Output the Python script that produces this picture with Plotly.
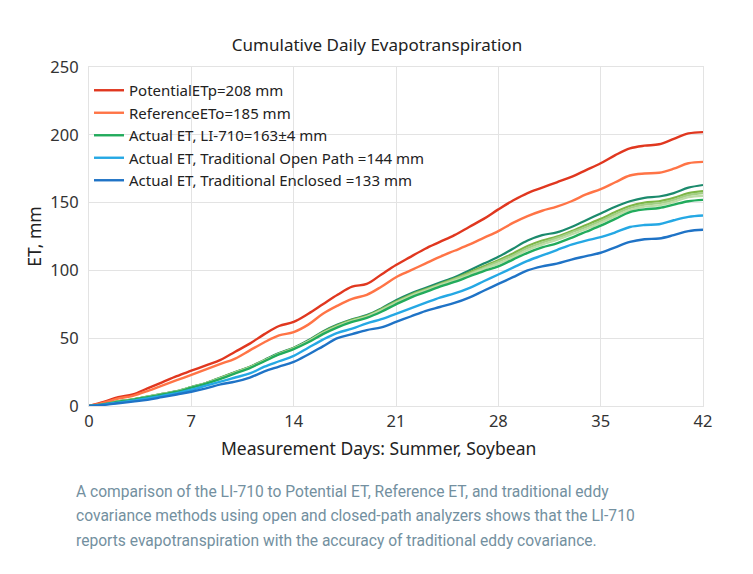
import plotly.graph_objects as go

days = list(range(0, 43))

potential = [0, 3, 6.5, 8.5, 13, 17.5, 22, 26, 30, 34, 40, 46, 53, 59, 62, 68, 75, 82, 88, 90, 97,
             104, 110, 116, 121, 126, 132, 138, 145, 151.5, 157, 161, 165, 169, 174, 179, 185, 190, 192, 193, 197, 201, 202]
reference = [0, 2.5, 5.5, 7.5, 11, 15, 19, 23, 27, 31, 35, 41, 47, 52, 54.5, 60, 68, 74, 79, 82, 88,
             95, 100, 105, 110, 114.5, 119, 124, 129, 135, 140, 144, 147, 151, 156, 160, 165, 170, 171.5, 172, 175, 179, 180]
li710_a = [0, 1.5, 3.5, 5, 7, 9, 11, 14, 17, 21, 25, 29, 34, 39, 43, 48.5, 55, 60, 64, 67, 72,
           78, 83, 87, 91, 95, 100, 105, 110, 116, 122, 126, 128, 132, 137, 142, 147, 151, 153.5, 154.5, 157, 161, 163]
li710_b = [0, 1.5, 3.4, 4.9, 6.9, 8.9, 10.9, 13.9, 16.9, 20.8, 24.8, 28.8, 33.7, 38.7, 42.7, 48, 54.5, 59.5, 63.5, 66.5, 71.5,
           77, 82, 86, 90, 94, 98.5, 103, 107.5, 112.5, 118, 122, 125, 129, 133.5, 138, 143, 147.5, 150, 151, 153.5, 157, 158.5]
li710_c = [0, 1.4, 3.4, 4.8, 6.8, 8.8, 10.8, 13.8, 16.8, 20.6, 24.6, 28.6, 33.5, 38.5, 42.5, 47.8, 54, 59, 63, 66, 71,
           76.5, 81.5, 85.5, 89.5, 93.5, 97.5, 102, 106.5, 111, 116.5, 120.5, 124, 128, 132, 136.5, 141.5, 146, 148.5, 149.5, 152, 155.5, 157]
li710_d = [0, 1.4, 3.3, 4.8, 6.7, 8.7, 10.7, 13.7, 16.7, 20.4, 24.4, 28.4, 33.3, 38.3, 42.3, 47.5, 53.7, 58.7, 62.7, 65.7, 70.5,
           76, 81, 85, 89, 92.5, 96.5, 101, 105, 109.5, 115, 119, 122.5, 126.5, 130.5, 135, 140, 144.5, 147, 148, 150.5, 154, 155]
li710_e = [0, 1.3, 3.2, 4.7, 6.5, 8.5, 10.5, 13.5, 16.5, 20, 24, 28, 33, 38, 42, 47, 53, 58, 62, 65, 69.5,
           75, 80, 84, 88, 91.5, 95.5, 99.5, 103, 108, 113, 117, 120, 124, 128.5, 133, 138, 143, 145, 146, 148.5, 151, 152]
open_path = [0, 1, 2.5, 4, 5.5, 7.5, 9.5, 12, 15, 18, 21, 24, 29, 33, 37, 43, 49, 54, 57, 61, 64,
             68, 72, 76, 80, 83, 87, 92, 97, 102, 107, 111, 115, 119, 122, 124.5, 128, 132, 133.5, 134, 137, 139.5, 140.5]
enclosed = [0, 0.8, 2, 3.2, 4.5, 6.5, 8.5, 10.5, 13, 16, 18, 21, 25.5, 29, 32.5, 38, 44, 50, 53, 56, 58,
            62, 66, 70, 73, 76, 80, 85, 90, 95, 100, 103, 105, 108, 110.5, 113, 117, 121, 123, 123.5, 126, 129, 130]

legend_names = ["PotentialETp=208 mm", "ReferenceETo=185 mm", "Actual ET, LI-710=163±4 mm",
                "Actual ET, Traditional Open Path =144 mm", "Actual ET, Traditional Enclosed =133 mm"]

x_ticks = [0, 7, 14, 21, 28, 35, 42]
y_ticks = [0, 50, 100, 150, 200, 250]

caption_lines = [
    "A comparison of the LI-710 to Potential ET, Reference ET, and traditional eddy",
    "covariance methods using open and closed-path analyzers shows that the LI-710",
    "reports evapotranspiration with the accuracy of traditional eddy covariance.",
]

fig = go.Figure()

extra = [(li710_a, "#1b8a6c"), (li710_b, "#7db646"), (li710_c, "#a3cf85"), (li710_d, "#bcdca6")]
for vals, col in extra:
    fig.add_trace(go.Scatter(x=days, y=vals, mode="lines", line=dict(color=col, width=2.2, shape="spline"),
                             showlegend=False, hoverinfo="skip"))

series = [
    (potential, "#e0371f", legend_names[0]),
    (reference, "#ff7446", legend_names[1]),
    (li710_e, "#22ab5c", legend_names[2]),
    (open_path, "#25a8e4", legend_names[3]),
    (enclosed, "#1f73c6", legend_names[4]),
]
for vals, col, name in series:
    fig.add_trace(go.Scatter(x=days, y=vals, mode="lines", name=name,
                             line=dict(color=col, width=2.4, shape="spline")))

# page has an 8px body margin, so offsets are reduced by 8
fig.update_layout(
    width=753, height=574,
    paper_bgcolor="white", plot_bgcolor="white",
    margin=dict(l=81, r=58, t=59, b=176),
    font=dict(family="Noto Sans", color="#222222"),
    title=dict(text="Cumulative Daily Evapotranspiration", x=(377 - 8) / 753, xanchor="center",
               y=1 - 37 / 574, yanchor="middle", yref="container",
               font=dict(size=17, color="#222222")),
    showlegend=True,
    legend=dict(x=0.0, y=(406 - 74) / 339, xanchor="left", yanchor="top", bgcolor="rgba(0,0,0,0)",
                font=dict(size=15, color="#222222"), traceorder="normal"),
    xaxis=dict(range=[0, 42], tickvals=x_ticks, ticktext=[str(t) for t in x_ticks],
               showgrid=True, gridcolor="#e3e3e3", gridwidth=1, zeroline=False,
               showline=True, linecolor="#e3e3e3", mirror=True,
               tickfont=dict(size=16.5, color="#333333")),
    yaxis=dict(range=[0, 250], tickvals=y_ticks, ticktext=[str(t) for t in y_ticks],
               showgrid=True, gridcolor="#e3e3e3", gridwidth=1, zeroline=False,
               showline=True, linecolor="#e3e3e3", mirror=True,
               tickfont=dict(size=16.5, color="#333333"), ticks="", ticklabelstandoff=6,
               title=dict(text="ET, mm", font=dict(size=17.5, color="#222222"), standoff=4)),
)

# x-axis title (placed slightly left of centre, as in the original)
fig.add_annotation(text="Measurement Days: Summer, Soybean", xref="paper", yref="paper",
                   x=(378 - 89) / 614, y=(406 - 448) / 339, xanchor="center", yanchor="middle",
                   showarrow=False, font=dict(size=17.5, color="#222222"))

cap_y = [492, 516, 541]
for line, yp in zip(caption_lines, cap_y):
    fig.add_annotation(text=line, xref="paper", yref="paper",
                       x=(74 - 89) / 614, y=(406 - yp) / 339, xanchor="left", yanchor="middle",
                       showarrow=False, align="left",
                       font=dict(family="Roboto", size=15.6, color="#7390a0"))

fig.write_html("out.html")
